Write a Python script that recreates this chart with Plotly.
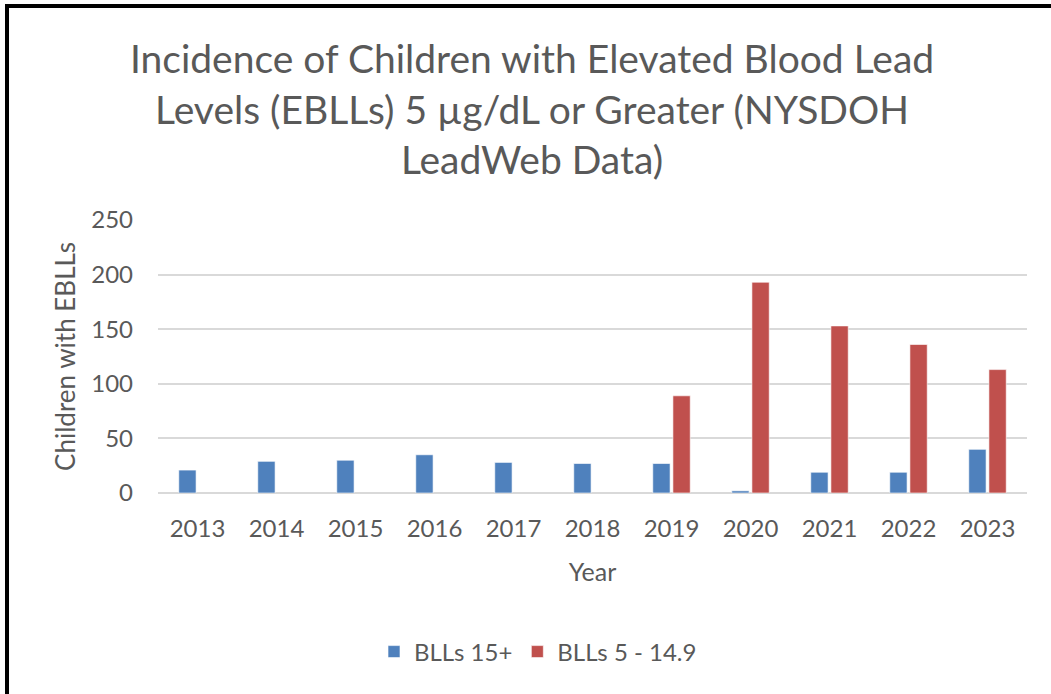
import plotly.graph_objects as go

years = ["2013", "2014", "2015", "2016", "2017", "2018", "2019", "2020", "2021", "2022", "2023"]
blls_15_plus = [21, 29, 30, 35, 28, 27, 27, 2, 19, 19, 40]
blls_5_to_14_9 = [None, None, None, None, None, None, 89, 193, 153, 136, 113]

title_text = ("Incidence of Children with Elevated Blood Lead<br>"
              "Levels (EBLLs) 5 µg/dL or Greater (NYSDOH<br>LeadWeb Data)")
y_ticks = [0, 50, 100, 150, 200, 250]

W, H = 1051, 694
L, R, T, B = 158, 24, 220, 201
pw, ph = W - L - R, H - T - B

def px_x(p):
    return (p - L) / pw

def px_y(q):
    return (H - B - q) / ph

FONT = "Lato, 'Open Sans', sans-serif"
GRAY = "#595959"

fig = go.Figure()
fig.add_trace(go.Bar(x=years, y=blls_15_plus, name="BLLs 15+",
                     marker=dict(color="#4F81BD", line=dict(color="rgba(255,255,255,0.6)", width=1))))
fig.add_trace(go.Bar(x=years, y=blls_5_to_14_9, name="BLLs 5 - 14.9",
                     marker=dict(color="#C0504D", line=dict(color="rgba(255,255,255,0.6)", width=1))))

fig.update_layout(
    width=W, height=H,
    margin=dict(l=L, r=R, t=T, b=B),
    paper_bgcolor="white", plot_bgcolor="white",
    barmode="group", bargap=0.49, bargroupgap=0.14,
    font=dict(family=FONT, color=GRAY, size=24),
    title=dict(text=title_text, x=532 / W, xref="container", xanchor="center",
               y=1 - 73 / H, yref="container", yanchor="top",
               font=dict(family=FONT, size=39, color=GRAY)),
    legend=dict(orientation="h", x=px_x(538), xanchor="center", y=px_y(652), yanchor="middle",
                font=dict(family=FONT, size=24, color=GRAY), traceorder="normal"),
    showlegend=True,
)
fig.update_xaxes(showgrid=False, showline=False, ticks="", ticklabelstandoff=19,
                 tickfont=dict(family=FONT, size=24, color=GRAY),
                 title=dict(text="Year", font=dict(family=FONT, size=25, color=GRAY), standoff=22))
fig.update_yaxes(range=[0, 250], tickvals=y_ticks, showgrid=True, gridcolor="#d9d9d9", gridwidth=1.5,
                 zeroline=True, zerolinecolor="#d9d9d9", zerolinewidth=1.5,
                 showline=False, ticks="", ticklabelstandoff=24,
                 tickfont=dict(family=FONT, size=24, color=GRAY),
                 title=dict(text="Children with EBLLs", font=dict(family=FONT, size=26, color=GRAY), standoff=8))

# outer black frame (top and left edges visible in the reference)
fig.add_shape(type="rect", xref="paper", yref="paper", layer="above",
              x0=px_x(5), x1=px_x(W + 5), y0=px_y(8), y1=px_y(4),
              fillcolor="black", line=dict(width=0))
fig.add_shape(type="rect", xref="paper", yref="paper", layer="above",
              x0=px_x(5), x1=px_x(9), y0=px_y(H + 5), y1=px_y(4),
              fillcolor="black", line=dict(width=0))

fig.write_html("out.html", config={"displayModeBar": False},
               post_script="document.body.style.margin='0';document.body.style.overflow='hidden';")
